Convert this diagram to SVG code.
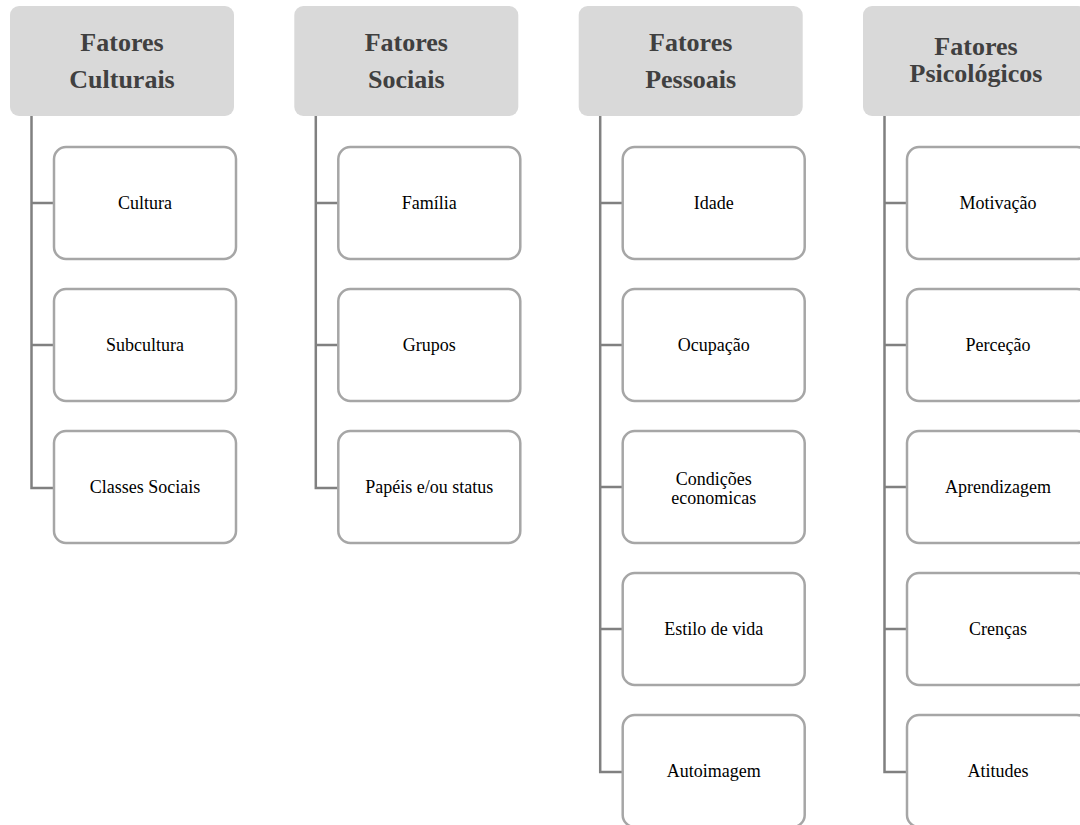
<svg xmlns="http://www.w3.org/2000/svg" width="1080" height="825" viewBox="0 0 1080 825">
<style>
.hdr{fill:#d9d9d9;stroke:none}
.ht{font-family:"Liberation Serif",serif;font-weight:bold;font-size:26px;fill:#404040;text-anchor:middle}
.box{fill:#ffffff;stroke:#a6a6a6;stroke-width:2.5}
.bt{font-family:"Liberation Serif",serif;font-size:18px;fill:#000000;text-anchor:middle}
.con{fill:none;stroke:#808080;stroke-width:2.5}
</style>
<rect width="1080" height="825" fill="#ffffff"/>
<g id="connectors">
<path class="con" d="M31.5,116 V488 H54 M31.5,203 H54 M31.5,345 H54"/>
<path class="con" d="M315.8,116 V488 H338.3 M315.8,203 H338.3 M315.8,345 H338.3"/>
<path class="con" d="M600.2,116 V772 H622.7 M600.2,203 H622.7 M600.2,345 H622.7 M600.2,487 H622.7 M600.2,629 H622.7"/>
<path class="con" d="M884.5,116 V772 H907 M884.5,203 H907 M884.5,345 H907 M884.5,487 H907 M884.5,629 H907"/>
</g>
<g id="h-culturais"><rect class="hdr" x="10" y="6" width="224" height="110" rx="9"/><text class="ht" x="122" y="51">Fatores</text><text class="ht" x="122" y="88">Culturais</text></g>
<g id="n-cultura"><rect class="box" x="54" y="147" width="182" height="112" rx="12"/><text class="bt" x="145" y="209">Cultura</text></g>
<g id="n-subcultura"><rect class="box" x="54" y="289" width="182" height="112" rx="12"/><text class="bt" x="145" y="351">Subcultura</text></g>
<g id="n-classes"><rect class="box" x="54" y="431" width="182" height="112" rx="12"/><text class="bt" x="145" y="493">Classes Sociais</text></g>

<g id="h-sociais"><rect class="hdr" x="294.3" y="6" width="224" height="110" rx="9"/><text class="ht" x="406.3" y="51">Fatores</text><text class="ht" x="406.3" y="88">Sociais</text></g>
<g id="n-familia"><rect class="box" x="338.3" y="147" width="182" height="112" rx="12"/><text class="bt" x="429.3" y="209">Família</text></g>
<g id="n-grupos"><rect class="box" x="338.3" y="289" width="182" height="112" rx="12"/><text class="bt" x="429.3" y="351">Grupos</text></g>
<g id="n-papeis"><rect class="box" x="338.3" y="431" width="182" height="112" rx="12"/><text class="bt" x="429.3" y="493">Papéis e/ou status</text></g>

<g id="h-pessoais"><rect class="hdr" x="578.7" y="6" width="224" height="110" rx="9"/><text class="ht" x="690.7" y="51">Fatores</text><text class="ht" x="690.7" y="88">Pessoais</text></g>
<g id="n-idade"><rect class="box" x="622.7" y="147" width="182" height="112" rx="12"/><text class="bt" x="713.7" y="209">Idade</text></g>
<g id="n-ocupacao"><rect class="box" x="622.7" y="289" width="182" height="112" rx="12"/><text class="bt" x="713.7" y="351">Ocupação</text></g>
<g id="n-condicoes"><rect class="box" x="622.7" y="431" width="182" height="112" rx="12"/><text class="bt" x="713.7" y="485">Condições</text><text class="bt" x="713.7" y="504">economicas</text></g>
<g id="n-estilo"><rect class="box" x="622.7" y="573" width="182" height="112" rx="12"/><text class="bt" x="713.7" y="635">Estilo de vida</text></g>
<g id="n-autoimagem"><rect class="box" x="622.7" y="715" width="182" height="112" rx="12"/><text class="bt" x="713.7" y="777">Autoimagem</text></g>

<g id="h-psicologicos"><rect class="hdr" x="863" y="6" width="224" height="110" rx="9"/><text class="ht" x="976" y="55">Fatores</text><text class="ht" x="976" y="82">Psicológicos</text></g>
<g id="n-motivacao"><rect class="box" x="907" y="147" width="182" height="112" rx="12"/><text class="bt" x="998" y="209">Motivação</text></g>
<g id="n-percecao"><rect class="box" x="907" y="289" width="182" height="112" rx="12"/><text class="bt" x="998" y="351">Perceção</text></g>
<g id="n-aprendizagem"><rect class="box" x="907" y="431" width="182" height="112" rx="12"/><text class="bt" x="998" y="493">Aprendizagem</text></g>
<g id="n-crencas"><rect class="box" x="907" y="573" width="182" height="112" rx="12"/><text class="bt" x="998" y="635">Crenças</text></g>
<g id="n-atitudes"><rect class="box" x="907" y="715" width="182" height="112" rx="12"/><text class="bt" x="998" y="777">Atitudes</text></g>
</svg>
